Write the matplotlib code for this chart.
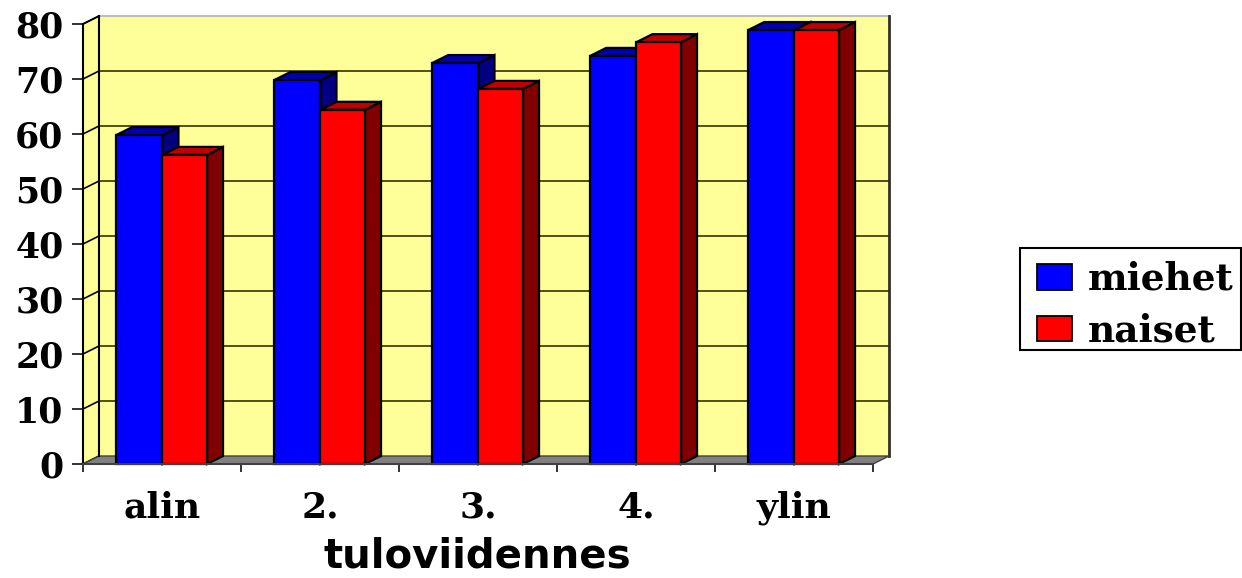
import matplotlib
matplotlib.use("Agg")
import matplotlib.pyplot as plt
from matplotlib.patches import Polygon, Patch, Rectangle

categories = ["alin", "2.", "3.", "4.", "ylin"]
miehet = [59.8, 69.8, 72.9, 74.2, 78.9]
naiset = [56.2, 64.4, 68.2, 76.7, 78.9]
y_ticks = [0, 10, 20, 30, 40, 50, 60, 70, 80]
x_label = "tuloviidennes"
series_names = ["miehet", "naiset"]

W, H = 1242, 578
fig = plt.figure(figsize=(W / 100, H / 100), dpi=100, facecolor="white")
L, R, T, B = 83, 873, 24, 464
ax = fig.add_axes([L / W, 1 - B / H, (R - L) / W, (B - T) / H])
n = len(categories)
ax.set_xlim(0, n)
ax.set_ylim(0, y_ticks[-1])
ax.patch.set_alpha(0)

# depth of the pseudo-3D box, in data units
dx = 16 / ((R - L) / n)
dy = 8 / ((B - T) / y_ticks[-1])
ymax = y_ticks[-1]
WALL = "#FFFF99"
LW = 1.6

def poly(pts, fc, z, ec="black", lw=LW):
    ax.add_patch(Polygon(pts, closed=True, facecolor=fc, edgecolor=ec, linewidth=lw,
                         zorder=z, clip_on=False, joinstyle="miter"))

# walls and floor
poly([(dx, dy), (n + dx, dy), (n + dx, ymax + dy), (dx, ymax + dy)], WALL, 1, ec="none", lw=0)
poly([(0, 0), (dx, dy), (dx, ymax + dy), (0, ymax)], WALL, 1, lw=1.2)
poly([(0, 0), (n, 0), (n + dx, dy), (dx, dy)], "#808080", 1, ec="#404040", lw=1)
ax.plot([dx, n + dx], [ymax + dy, ymax + dy], color="#bdbdbd", lw=1.5, zorder=1.5, clip_on=False)
ax.plot([n + dx, n + dx], [dy, ymax + dy], color="#303030", lw=2, zorder=1.5, clip_on=False)
ax.plot([dx, dx], [dy, ymax + dy], color="black", lw=1.5, zorder=1.5, clip_on=False)
for v in y_ticks[1:-1]:
    ax.plot([dx, n + dx], [v + dy, v + dy], color="#333300", lw=1.2, zorder=1.5, clip_on=False)
for v in y_ticks[1:]:
    ax.plot([0, dx], [v, v + dy], color="black", lw=1.2, zorder=1.5, clip_on=False)

# bars
width_b = 0.293
width_r = 0.282
start = 0.21

def bar3d(x0, w, h, front, top, side, z):
    poly([(x0 + w, 0), (x0 + w + dx, dy), (x0 + w + dx, h + dy), (x0 + w, h)], side, z)
    poly([(x0, h), (x0 + w, h), (x0 + w + dx, h + dy), (x0 + dx, h + dy)], top, z)
    poly([(x0, 0), (x0 + w, 0), (x0 + w, h), (x0, h)], front, z + 0.1)

for i in range(n):
    bar3d(i + start, width_b, miehet[i], "#0000FF", "#0000B0", "#000080", 3 + i)
    bar3d(i + start + width_b, width_r, naiset[i], "#FF0000", "#C00000", "#800000", 3.5 + i)

# axes, ticks, labels
for s in ("top", "right"):
    ax.spines[s].set_visible(False)
ax.spines["left"].set_linewidth(1.5)
ax.spines["bottom"].set_color("#404040")
ax.spines["bottom"].set_linewidth(1.5)
ax.spines["left"].set_zorder(2)
ax.spines["bottom"].set_zorder(20)

ax.set_yticks(y_ticks)
ax.set_yticklabels([str(v) for v in y_ticks], family="DejaVu Serif", fontweight="bold", fontsize=25)
ax.tick_params(axis="y", length=8, width=1.3, pad=6, color="#222222")
ax.set_xticks(range(n + 1))
ax.set_xticklabels([""] * (n + 1))
ax.tick_params(axis="x", which="major", length=6, width=1.3, color="#222222")
ax.set_xticks([i + 0.5 for i in range(n)], minor=True)
ax.set_xticklabels(categories, minor=True, family="DejaVu Serif", fontweight="bold", fontsize=26)
ax.tick_params(axis="x", which="minor", length=0, pad=19)

fig.text(477 / W, 1 - 577 / H, x_label, family="DejaVu Sans", fontweight="bold",
         fontsize=29, ha="center", va="bottom")

# legend: frame drawn separately so the entries can sit where they do in the reference
fig.add_artist(Rectangle((1020 / W, 1 - 350 / H), 221 / W, 102 / H, transform=fig.transFigure,
                         facecolor="white", edgecolor="black", linewidth=1.5, zorder=5))
handles = [Patch(facecolor="#0000FF", edgecolor="black", linewidth=1.3),
           Patch(facecolor="#FF0000", edgecolor="black", linewidth=1.3)]
leg = fig.legend(handles, series_names, loc="upper left",
                 bbox_to_anchor=(1037 / W, 1 - 261 / H), bbox_transform=fig.transFigure,
                 prop={"family": "DejaVu Serif", "weight": "bold", "size": 27},
                 frameon=False, borderaxespad=0, borderpad=0, handlelength=0.93,
                 handleheight=0.67, handletextpad=0.42, labelspacing=0.39)
leg.set_zorder(6)

fig.savefig("out.png", dpi=100, facecolor="white")
